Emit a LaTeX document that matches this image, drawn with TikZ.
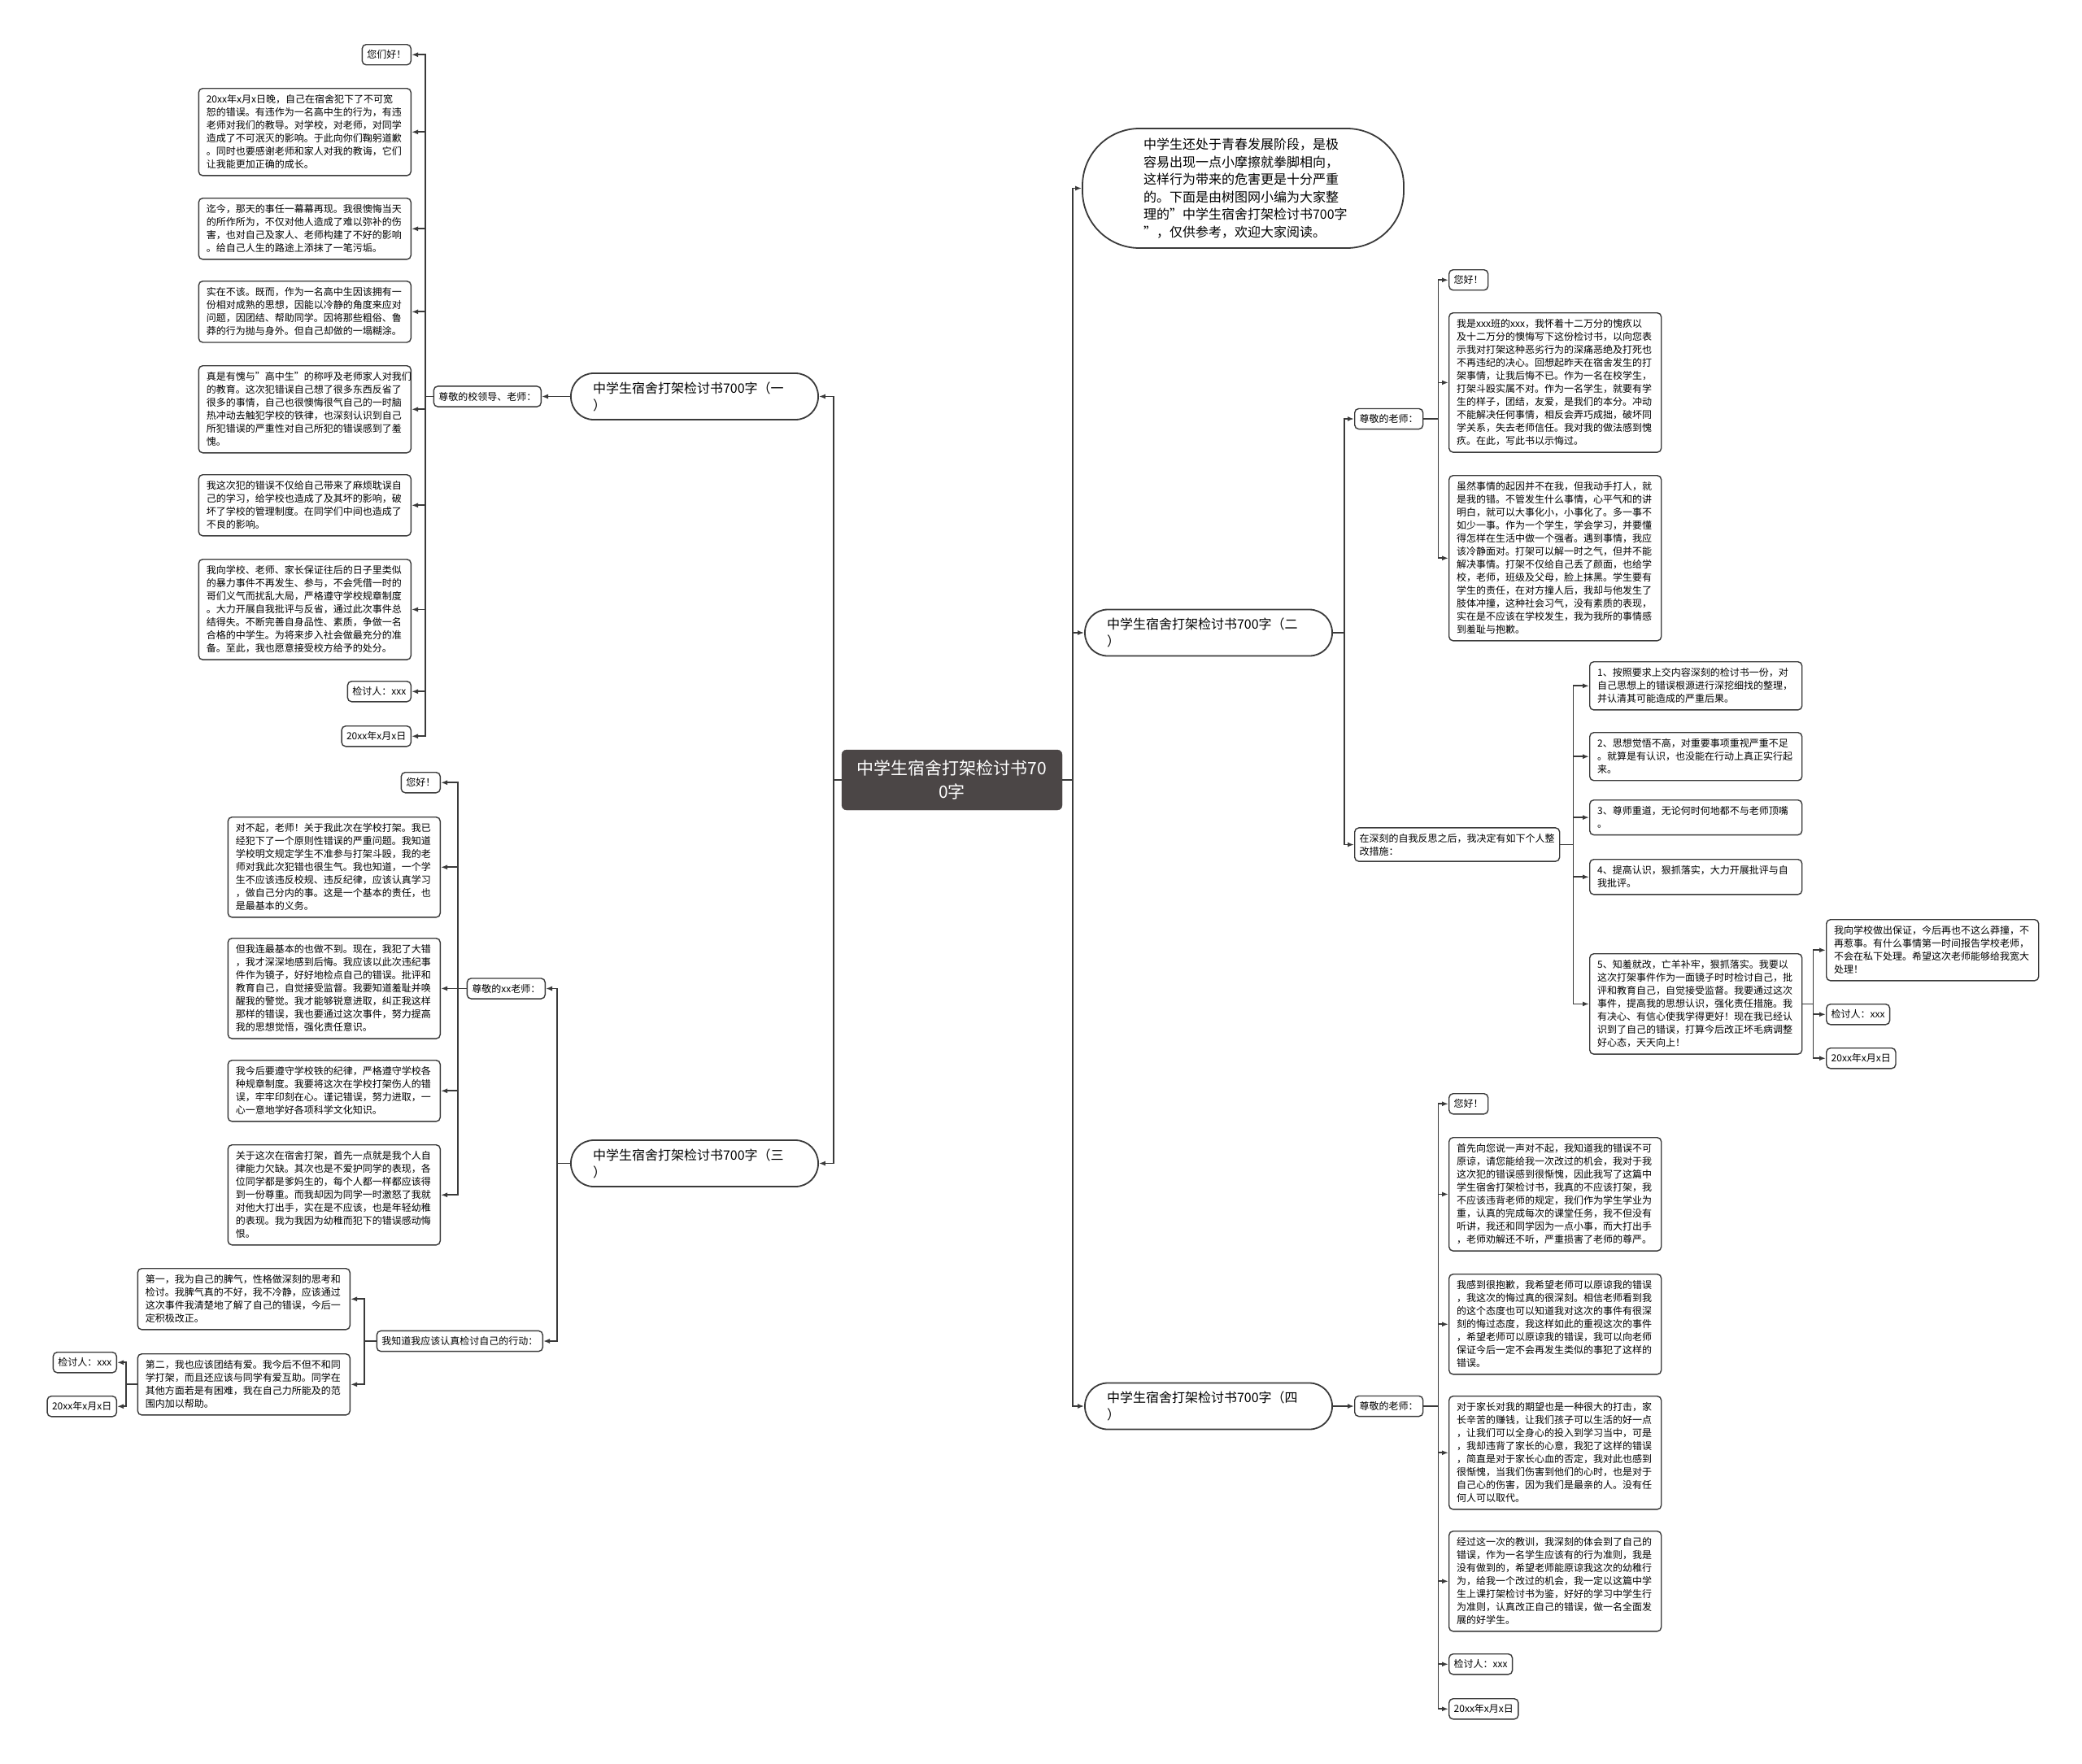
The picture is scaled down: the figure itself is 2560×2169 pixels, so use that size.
\documentclass[tikz,border=0pt]{standalone}
\usepackage{fontspec}
\setmainfont{Noto Sans CJK SC}
\usepackage{tikz}
\usetikzlibrary{arrows.meta}
\usetikzlibrary{positioning}
\usetikzlibrary{calc}
\definecolor{linec}{HTML}{3A3A3A}
\definecolor{hubc}{HTML}{4B4646}
\tikzset{>=latex}
\tikzset{
    link/.style = {line width=1.8pt, draw=linec},
    vis/.style = {link, -{Latex[length=8pt,width=6pt]}},
}
\tikzset{
    hub/.style={draw=hubc, fill=hubc, rounded corners=6pt, text=white, font=\fontsize{21}{29}\selectfont, minimum width=271pt, minimum height=74pt, align=center},
    topic/.style={draw=linec, line width=1.8pt, fill=white, rounded corners=28pt, minimum width=304pt, minimum height=57pt, text width=250pt, align=left, font=\fontsize{16}{21}\selectfont},
    intro/.style={topic, rounded corners=70pt, minimum width=395pt, minimum height=147pt, text width=245pt, font=\fontsize{16}{21.5}\selectfont},
    tag/.style={draw=linec, line width=1.4pt, fill=white, rounded corners=5pt, inner xsep=6pt, inner ysep=7pt, align=left, font=\fontsize{12}{16}\selectfont},
    para/.style={tag, text width=242pt, inner xsep=9.5pt, inner ysep=8pt},
}
\begin{document}
\begin{tikzpicture}[x=1pt,y=-1pt]
\useasboundingbox[fill=white] (0,0) rectangle (2560,2169);
\node[hub] (root) at (1170.5,959) {中学生宿舍打架检讨书70\\0字};
\node[intro] (intro) at (1528.5,231.5) {中学生还处于青春发展阶段，是极\\容易出现一点小摩擦就拳脚相向，\\这样行为带来的危害更是十分严重\\的。下面是由树图网小编为大家整\\理的"中学生宿舍打架检讨书700字\\"，仅供参考，欢迎大家阅读。};
\node[topic] (b1) at (854,487.5) {中学生宿舍打架检讨书700字（一\\）};
\node[topic] (b3) at (854,1430.5) {中学生宿舍打架检讨书700字（三\\）};
\node[topic] (b2) at (1486,778) {中学生宿舍打架检讨书700字（二\\）};
\node[topic] (b4) at (1486,1729) {中学生宿舍打架检讨书700字（四\\）};

\node[tag, anchor=east] (b1t) at (666,487.5) {尊敬的校领导、老师：};
\node[tag, anchor=north east] (p11) at (506,54) {您们好！};
\node[para, anchor=north east] (p12) at (506,108) {20xx年x月x日晚，自己在宿舍犯下了不可宽\\恕的错误。有违作为一名高中生的行为，有违\\老师对我们的教导。对学校，对老师，对同学\\造成了不可泯灭的影响。于此向你们鞠躬道歉\\。同时也要感谢老师和家人对我的教诲，它们\\让我能更加正确的成长。};
\node[para, anchor=north east] (p13) at (506,243) {迄今，那天的事任一幕幕再现。我很懊悔当天\\的所作所为，不仅对他人造成了难以弥补的伤\\害，也对自己及家人、老师构建了不好的影响\\。给自己人生的路途上添抹了一笔污垢。};
\node[para, anchor=north east] (p14) at (506,345) {实在不该。既而，作为一名高中生因该拥有一\\份相对成熟的思想，因能以冷静的角度来应对\\问题，因团结、帮助同学。因将那些粗俗、鲁\\莽的行为抛与身外。但自己却做的一塌糊涂。};
\node[para, anchor=north east] (p15) at (506,449) {真是有愧与"高中生"的称呼及老师家人对我们\\的教育。这次犯错误自己想了很多东西反省了\\很多的事情，自己也很懊悔很气自己的一时脑\\热冲动去触犯学校的铁律，也深刻认识到自己\\所犯错误的严重性对自己所犯的错误感到了羞\\愧。};
\node[para, anchor=north east] (p16) at (506,583) {我这次犯的错误不仅给自己带来了麻烦耽误自\\己的学习，给学校也造成了及其坏的影响，破\\坏了学校的管理制度。在同学们中间也造成了\\不良的影响。};
\node[para, anchor=north east] (p17) at (506,687) {我向学校、老师、家长保证往后的日子里类似\\的暴力事件不再发生、参与，不会凭借一时的\\哥们义气而扰乱大局，严格遵守学校规章制度\\。大力开展自我批评与反省，通过此次事件总\\结得失。不断完善自身品性、素质，争做一名\\合格的中学生。为将来步入社会做最充分的准\\备。至此，我也愿意接受校方给予的处分。};
\node[tag, anchor=north east] (p18) at (506,837) {检讨人：xxx};
\node[tag, anchor=north east] (p19) at (506,892) {20xx年x月x日};

\node[tag, anchor=east] (b3t) at (671,1215.5) {尊敬的xx老师：};
\node[tag, anchor=east] (b3u) at (668,1649) {我知道我应该认真检讨自己的行动：};
\node[tag, anchor=north east] (p31) at (542,949) {您好！};
\node[para, anchor=north east] (p32) at (542,1004) {对不起，老师！关于我此次在学校打架。我已\\经犯下了一个原则性错误的严重问题。我知道\\学校明文规定学生不准参与打架斗殴，我的老\\师对我此次犯错也很生气。我也知道，一个学\\生不应该违反校规、违反纪律，应该认真学习\\，做自己分内的事。这是一个基本的责任，也\\是最基本的义务。};
\node[para, anchor=north east] (p33) at (542,1153) {但我连最基本的也做不到。现在，我犯了大错\\，我才深深地感到后悔。我应该以此次违纪事\\件作为镜子，好好地检点自己的错误。批评和\\教育自己，自觉接受监督。我要知道羞耻并唤\\醒我的警觉。我才能够锐意进取，纠正我这样\\那样的错误，我也要通过这次事件，努力提高\\我的思想觉悟，强化责任意识。};
\node[para, anchor=north east] (p34) at (542,1303) {我今后要遵守学校铁的纪律，严格遵守学校各\\种规章制度。我要将这次在学校打架伤人的错\\误，牢牢印刻在心。谨记错误，努力进取，一\\心一意地学好各项科学文化知识。};
\node[para, anchor=north east] (p35) at (542,1407) {关于这次在宿舍打架，首先一点就是我个人自\\律能力欠缺。其次也是不爱护同学的表现，各\\位同学都是爹妈生的，每个人都一样都应该得\\到一份尊重。而我却因为同学一时激怒了我就\\对他大打出手，实在是不应该，也是年轻幼稚\\的表现。我为我因为幼稚而犯下的错误感动悔\\恨。};
\node[para, anchor=north east] (p36) at (431,1559) {第一，我为自己的脾气，性格做深刻的思考和\\检讨。我脾气真的不好，我不冷静，应该通过\\这次事件我清楚地了解了自己的错误，今后一\\定积极改正。};
\node[para, anchor=north east] (p37) at (431,1664) {第二，我也应该团结有爱。我今后不但不和同\\学打架，而且还应该与同学有爱互助。同学在\\其他方面若是有困难，我在自己力所能及的范\\围内加以帮助。};
\node[tag, anchor=north east] (p38) at (144,1662) {检讨人：xxx};
\node[tag, anchor=north east] (p39) at (144,1716) {20xx年x月x日};

\node[tag, anchor=west] (b2t) at (1665,515) {尊敬的老师：};
\node[tag, anchor=west] (b2u) at (1665,1038.5) {在深刻的自我反思之后，我决定有如下个人整\\改措施：};
\node[tag, anchor=north west] (p21) at (1781,331) {您好！};
\node[para, anchor=north west] (p22) at (1781,384) {我是xxx班的xxx，我怀着十二万分的愧疚以\\及十二万分的懊悔写下这份检讨书，以向您表\\示我对打架这种恶劣行为的深痛恶绝及打死也\\不再违纪的决心。回想起昨天在宿舍发生的打\\架事情，让我后悔不已。作为一名在校学生，\\打架斗殴实属不对。作为一名学生，就要有学\\生的样子，团结，友爱，是我们的本分。冲动\\不能解决任何事情，相反会弄巧成拙，破坏同\\学关系，失去老师信任。我对我的做法感到愧\\疚。在此，写此书以示悔过。};
\node[para, anchor=north west] (p23) at (1781,584) {虽然事情的起因并不在我，但我动手打人，就\\是我的错。不管发生什么事情，心平气和的讲\\明白，就可以大事化小，小事化了。多一事不\\如少一事。作为一个学生，学会学习，并要懂\\得怎样在生活中做一个强者。遇到事情，我应\\该冷静面对。打架可以解一时之气，但并不能\\解决事情。打架不仅给自己丢了颜面，也给学\\校，老师，班级及父母，脸上抹黑。学生要有\\学生的责任，在对方撞人后，我却与他发生了\\肢体冲撞，这种社会习气，没有素质的表现，\\实在是不应该在学校发生，我为我所的事情感\\到羞耻与抱歉。};
\node[para, anchor=north west] (m1) at (1954,813) {1、按照要求上交内容深刻的检讨书一份，对\\自己思想上的错误根源进行深挖细找的整理，\\并认清其可能造成的严重后果。};
\node[para, anchor=north west] (m2) at (1954,900) {2、思想觉悟不高，对重要事项重视严重不足\\。就算是有认识，也没能在行动上真正实行起\\来。};
\node[para, anchor=north west] (m3) at (1954,983) {3、尊师重道，无论何时何地都不与老师顶嘴\\。};
\node[para, anchor=north west] (m4) at (1954,1056) {4、提高认识，狠抓落实，大力开展批评与自\\我批评。};
\node[para, anchor=north west] (m5) at (1954,1172) {5、知羞就改，亡羊补牢，狠抓落实。我要以\\这次打架事件作为一面镜子时时检讨自己，批\\评和教育自己，自觉接受监督。我要通过这次\\事件，提高我的思想认识，强化责任措施。我\\有决心、有信心使我学得更好！现在我已经认\\识到了自己的错误，打算今后改正坏毛病调整\\好心态，天天向上！};
\node[para, anchor=north west] (m6) at (2245,1130) {我向学校做出保证，今后再也不这么莽撞，不\\再惹事。有什么事情第一时间报告学校老师，\\不会在私下处理。希望这次老师能够给我宽大\\处理！};
\node[tag, anchor=north west] (m7) at (2245,1234) {检讨人：xxx};
\node[tag, anchor=north west] (m8) at (2245,1288) {20xx年x月x日};

\node[tag, anchor=west] (b4t) at (1665,1729) {尊敬的老师：};
\node[tag, anchor=north west] (p41) at (1781,1344) {您好！};
\node[para, anchor=north west] (p42) at (1781,1398) {首先向您说一声对不起，我知道我的错误不可\\原谅，请您能给我一次改过的机会，我对于我\\这次犯的错误感到很惭愧，因此我写了这篇中\\学生宿舍打架检讨书，我真的不应该打架，我\\不应该违背老师的规定，我们作为学生学业为\\重，认真的完成每次的课堂任务，我不但没有\\听讲，我还和同学因为一点小事，而大打出手\\，老师劝解还不听，严重损害了老师的尊严。};
\node[para, anchor=north west] (p43) at (1781,1566) {我感到很抱歉，我希望老师可以原谅我的错误\\，我这次的悔过真的很深刻。相信老师看到我\\的这个态度也可以知道我对这次的事件有很深\\刻的悔过态度，我这样如此的重视这次的事件\\，希望老师可以原谅我的错误，我可以向老师\\保证今后一定不会再发生类似的事犯了这样的\\错误。};
\node[para, anchor=north west] (p44) at (1781,1716) {对于家长对我的期望也是一种很大的打击，家\\长辛苦的赚钱，让我们孩子可以生活的好一点\\，让我们可以全身心的投入到学习当中，可是\\，我却违背了家长的心意，我犯了这样的错误\\，简直是对于家长心血的否定，我对此也感到\\很惭愧，当我们伤害到他们的心时，也是对于\\自己心的伤害，因为我们是最亲的人。没有任\\何人可以取代。};
\node[para, anchor=north west] (p45) at (1781,1882) {经过这一次的教训，我深刻的体会到了自己的\\错误，作为一名学生应该有的行为准则，我是\\没有做到的，希望老师能原谅我这次的幼稚行\\为，给我一个改过的机会，我一定以这篇中学\\生上课打架检讨书为鉴，好好的学习中学生行\\为准则，认真改正自己的错误，做一名全面发\\展的好学生。};
\node[tag, anchor=north west] (p46) at (1781,2033) {检讨人：xxx};
\node[tag, anchor=north west] (p47) at (1781,2088) {20xx年x月x日};

\foreach \t in {b1,b3} \draw[vis] (root.west) -- ++(-10,0) |- (\t.east);
\foreach \t in {intro,b2,b4} \draw[vis] (root.east) -- ++(13,0) |- (\t.west);
\draw[vis] (b1.west) -- (b1t.east);
\foreach \t in {p11,p12,p13,p14,p15,p16,p17,p18,p19} \draw[vis] (b1t.west) -- ++(-10,0) |- (\t.east);
\foreach \t in {b3t,b3u} \draw[vis] (b3.west) -- ++(-16,0) |- (\t.east);
\foreach \t in {p31,p32,p33,p34,p35} \draw[vis] (b3t.west) -- ++(-11,0) |- (\t.east);
\foreach \t in {p36,p37} \draw[vis] (b3u.west) -- ++(-15,0) |- (\t.east);
\foreach \t in {p38,p39} \draw[vis] (p37.west) -- ++(-14,0) |- (\t.east);
\foreach \t in {b2t,b2u} \draw[vis] (b2.east) -- ++(14,0) |- (\t.west);
\foreach \t in {p21,p22,p23} \draw[vis] (b2t.east) -- ++(18,0) |- (\t.west);
\foreach \t in {m1,m2,m3,m4,m5} \draw[vis] (b2u.east) -- ++(16,0) |- (\t.west);
\foreach \t in {m6,m7,m8} \draw[vis] (m5.east) -- ++(13,0) |- (\t.west);
\draw[vis] (b4.east) -- (b4t.west);
\foreach \t in {p41,p42,p43,p44,p45,p46,p47} \draw[vis] (b4t.east) -- ++(18,0) |- (\t.west);
\end{tikzpicture}
\end{document}
